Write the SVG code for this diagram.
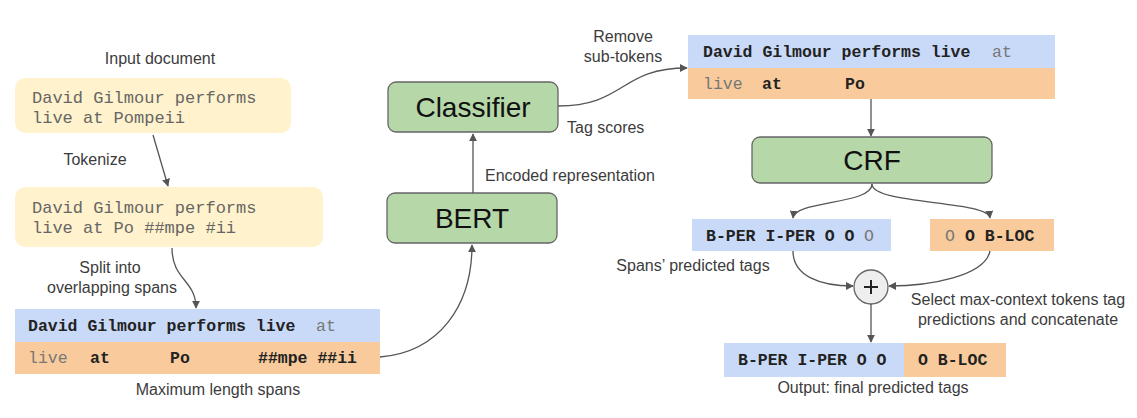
<svg xmlns="http://www.w3.org/2000/svg" width="1137" height="418" viewBox="0 0 1137 418">
<defs>
<style>
.lbl{font-family:"Liberation Sans",Arial,sans-serif;font-size:16px;fill:#3c3c3c}
.mono{font-family:"Liberation Mono","Courier New",monospace;font-size:16.5px;fill:#222}
.b{font-weight:bold}
.g{fill:#777;font-weight:normal}
.doc{font-family:"Liberation Mono","Courier New",monospace;font-size:17px;fill:#666}
.yel{fill:#fff2cc}
.blue{fill:#c9daf8}
.orng{fill:#f9cb9c}
.green{fill:#b6d7a8;stroke:#666;stroke-width:1.3}
.big{font-family:"Liberation Sans",Arial,sans-serif;font-size:28px;fill:#111;text-anchor:middle}
.conn{fill:none;stroke:#555;stroke-width:1.3;marker-end:url(#ah)}
</style>
<marker id="ah" viewBox="0 0 10 10" refX="9" refY="5" markerWidth="8" markerHeight="8" markerUnits="userSpaceOnUse" orient="auto">
<path d="M0,0 L10,5 L0,10 z" fill="#555"/>
</marker>
</defs>
<rect width="1137" height="418" fill="#fff"/>

<g id="input-doc">
<text class="lbl" x="160" y="64" text-anchor="middle">Input document</text>
<rect class="yel" x="15" y="78" width="276" height="55" rx="10"/>
<text class="doc" x="32" y="103">David Gilmour performs</text>
<text class="doc" x="32" y="123">live at Pompeii</text>
</g>

<g id="tokenized">
<rect class="yel" x="15" y="187" width="308" height="60" rx="10"/>
<text class="doc" x="32" y="213">David Gilmour performs</text>
<text class="doc" x="32" y="233">live at Po ##mpe #ii</text>
</g>

<g id="spans">
<rect class="blue" x="15" y="309" width="365" height="33"/>
<rect class="orng" x="15" y="342" width="365" height="32"/>
<text class="mono b" x="28" y="331">David Gilmour performs live</text>
<text class="mono g" x="316" y="331">at</text>
<text class="mono g" x="28" y="363">live</text>
<text class="mono b" x="90" y="363">at</text>
<text class="mono b" x="170" y="363">Po</text>
<text class="mono b" x="258" y="363">##mpe ##ii</text>
<text class="lbl" x="218" y="395" text-anchor="middle">Maximum length spans</text>
</g>

<g id="bert">
<rect class="green" x="387" y="193" width="170" height="50" rx="8"/>
<text class="big" x="472" y="228">BERT</text>
</g>

<g id="classifier">
<rect class="green" x="388" y="82" width="170" height="50" rx="8"/>
<text class="big" x="473" y="117">Classifier</text>
</g>

<g id="subtok">
<rect class="blue" x="688" y="35" width="367" height="33"/>
<rect class="orng" x="688" y="68" width="367" height="31"/>
<text class="mono b" x="703" y="57">David Gilmour performs live</text>
<text class="mono g" x="992" y="57">at</text>
<text class="mono g" x="703" y="89">live</text>
<text class="mono b" x="762" y="89">at</text>
<text class="mono b" x="845" y="89">Po</text>
</g>

<g id="crf">
<rect class="green" x="752" y="137" width="240" height="46" rx="8"/>
<text class="big" x="872" y="170">CRF</text>
</g>

<g id="tags-left">
<rect class="blue" x="692" y="219" width="199" height="32"/>
<text class="mono b" x="706" y="241">B-PER I-PER O O</text>
<text class="mono g" x="864" y="241">O</text>
</g>

<g id="tags-right">
<rect class="orng" x="930" y="219" width="124" height="32"/>
<text class="mono g" x="945" y="241">O</text>
<text class="mono b" x="965" y="241">O B-LOC</text>
</g>

<g id="plus">
<circle cx="871" cy="287" r="17" fill="#eeeeee" stroke="#666" stroke-width="1.3"/>
<path d="M864,287 H878 M871,280 V294" stroke="#222" stroke-width="2"/>
</g>

<g id="output">
<rect class="blue" x="724" y="343" width="180" height="34"/>
<rect class="orng" x="904" y="343" width="102" height="34"/>
<text class="mono b" x="738" y="365">B-PER I-PER O O</text>
<text class="mono b" x="918" y="365">O B-LOC</text>
<text class="lbl" x="873" y="393" text-anchor="middle">Output: final predicted tags</text>
</g>

<g id="connectors">
<path class="conn" d="M153,135 L168,186"/>
<path class="conn" d="M172,248 C172,280 196,280 196,308"/>
<path class="conn" d="M380,357 C440,352 472,305 472,245"/>
<path class="conn" d="M473,193 L473,134"/>
<path class="conn" d="M558,106 C625,106 620,68 687,68"/>
<path class="conn" d="M871,99 L871,136"/>
<path class="conn" d="M872,184 C872,205 795,200 793,218"/>
<path class="conn" d="M872,184 C872,205 988,200 990,218"/>
<path class="conn" d="M793,251 C793,276 820,286 853,286"/>
<path class="conn" d="M990,251 C985,276 930,286 889,286"/>
<path class="conn" d="M871,304 L871,342"/>
</g>

<g id="labels">
<text class="lbl" x="95" y="165" text-anchor="middle">Tokenize</text>
<text class="lbl" x="110" y="273" text-anchor="middle">Split into</text>
<text class="lbl" x="112" y="293" text-anchor="middle">overlapping spans</text>
<text class="lbl" x="485" y="181">Encoded representation</text>
<text class="lbl" x="567" y="133">Tag scores</text>
<text class="lbl" x="623" y="42" text-anchor="middle">Remove</text>
<text class="lbl" x="623" y="62" text-anchor="middle">sub-tokens</text>
<text class="lbl" x="693" y="271" text-anchor="middle">Spans’ predicted tags</text>
<text class="lbl" x="1018" y="305" text-anchor="middle">Select max-context tokens tag</text>
<text class="lbl" x="1018" y="325" text-anchor="middle">predictions and concatenate</text>
</g>
</svg>
